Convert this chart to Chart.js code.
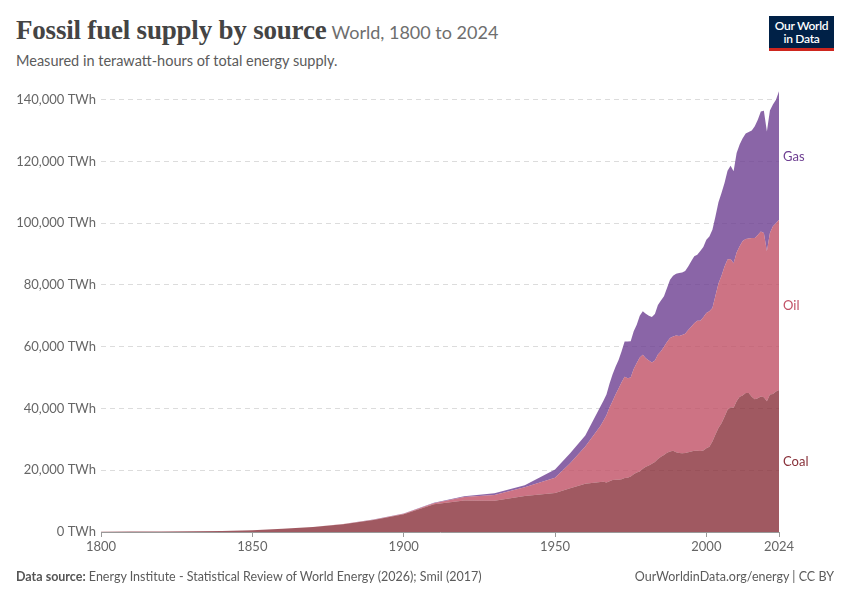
<!DOCTYPE html>
<html>
<head>
<meta charset="utf-8">
<script src="https://cdn.jsdelivr.net/npm/chart.js@4.4.0/dist/chart.umd.min.js"></script>
<style>
  html, body { margin: 0; padding: 0; background: #fff; }
  body { width: 850px; height: 600px; position: relative; overflow: hidden; font-family: Lato, "Noto Sans", sans-serif; }
  #wrap { position: absolute; left: 0; top: 0; width: 850px; height: 600px; }
  .title { position: absolute; left: 16px; top: 15px; white-space: nowrap; }
  .title .main { font-family: "Liberation Serif", "DejaVu Serif", serif; font-weight: 600; font-size: 27px; color: #444; letter-spacing: -0.2px; }
  .title .sub { font-family: Lato, sans-serif; font-size: 18px; color: #6e6e6e; margin-left: 1px; }
  .subtitle { position: absolute; left: 16px; top: 52px; font-size: 14.5px; color: #5b5b5b; white-space: nowrap; }
  .footer { position: absolute; top: 569px; font-size: 12.5px; color: #5b5b5b; white-space: nowrap; }
  .footer.left { left: 16px; }
  .footer.right { right: 16px; }
  .footer b { font-weight: 700; color: #555; }
  .logo { position: absolute; left: 769px; top: 16px; width: 65px; height: 35px; background: #002147; border-bottom: 3px solid #ce261e; box-sizing: border-box; color: #fff; font-size: 12px; font-weight: 600; line-height: 13px; text-align: center; padding-top: 3px; letter-spacing: -0.3px; }
  .slabel { position: absolute; left: 783px; font-size: 13px; white-space: nowrap; transform: translateY(-50%); }
</style>
</head>
<body>
<div class="title"><span class="main">Fossil fuel supply by source</span> <span class="sub">World, 1800 to 2024</span></div>
<div class="subtitle">Measured in terawatt-hours of total energy supply.</div>
<div class="logo">Our World<br>in Data</div>
<div id="wrap"><canvas id="c" width="850" height="600"></canvas></div>
<div class="footer left"><b>Data source:</b> Energy Institute - Statistical Review of World Energy (2026); Smil (2017)</div>
<div class="footer right">OurWorldinData.org/energy | CC BY</div>
<div id="lab-gas" class="slabel" style="color:#6d3e91">Gas</div>
<div id="lab-oil" class="slabel" style="color:#c15065">Oil</div>
<div id="lab-coal" class="slabel" style="color:#883039">Coal</div>
<script>
// Years
const years = [1800,1810,1820,1830,1840,1850,1860,1870,1880,1890,1900,1910,1920,1930,1940,1950,1955,1960,
  1965,1966,1967,1968,1969,1970,1971,1972,1973,1974,1975,1976,1977,1978,1979,1980,1981,1982,1983,1984,
  1985,1986,1987,1988,1989,1990,1991,1992,1993,1994,1995,1996,1997,1998,1999,2000,2001,2002,2003,2004,
  2005,2006,2007,2008,2009,2010,2011,2012,2013,2014,2015,2016,2017,2018,2019,2020,2021,2022,2023,2024];

// Coal supply (TWh)
const coal = [97,128,153,264,356,569,1061,1642,2542,3856,5728,9000,10200,10150,11670,12600,14150,15600,
  16200,16300,16000,16400,16800,16900,16900,17100,17500,17600,18000,18700,19300,19600,20500,21100,21500,22100,22700,23600,
  24400,24900,25700,26100,26300,25800,25600,25500,25600,25800,26100,26300,26300,26200,26400,27100,27600,29300,31600,33700,
  35200,37300,39600,40400,40200,42300,43800,44200,45000,45000,43800,43000,43300,43900,43600,42300,44500,44700,45500,46000];

// Oil supply (TWh)
const oil = [0,0,0,0,0,0,0,6,33,89,181,300,1100,1850,2800,5000,8100,12050,
  18100,19700,21800,23900,25500,27600,29600,31400,32800,32200,32000,34100,35400,36900,36900,35200,34000,32800,32800,33900,
  34100,35100,35800,36700,37000,37800,37900,38300,38600,39600,40400,41300,42100,42200,43100,43800,43900,43200,44900,46800,
  47800,48700,48600,48000,46800,48200,48700,50000,49900,50000,51400,52200,52900,53400,53200,48600,52300,54300,54500,55100];

// Gas supply (TWh)
const gas = [0,0,0,0,0,0,0,0,33,89,64,150,250,540,650,2600,3250,3570,
  6300,6500,6700,7700,8700,9000,9200,10000,11400,11900,11800,12200,12400,13500,14100,14400,14500,14700,15100,16000,
  16500,16300,17500,18900,19700,20000,20400,20200,20300,20600,21200,21700,21400,22600,22800,23700,24200,25400,25700,26300,
  26800,27000,28800,30200,29800,32200,33000,33300,34100,34500,34800,36200,37300,38900,39600,38800,39700,39400,40000,41600];

// Axis ticks
const xTicks = [1800, 1850, 1900, 1950, 2000, 2024];
const yTicks = [0, 20000, 40000, 60000, 80000, 100000, 120000, 140000];

const toXY = arr => years.map((yr, i) => ({ x: yr, y: arr[i] }));
const fmt = v => v.toLocaleString('en-US') + ' TWh';

const chart = new Chart(document.getElementById('c'), {
  type: 'line',
  data: {
    datasets: [
      { label: 'Coal', data: toXY(coal), backgroundColor: 'rgba(136,48,57,0.8)', borderWidth: 0, pointRadius: 0, fill: 'origin' },
      { label: 'Oil', data: toXY(oil), backgroundColor: 'rgba(193,80,101,0.8)', borderWidth: 0, pointRadius: 0, fill: '-1' },
      { label: 'Gas', data: toXY(gas), backgroundColor: 'rgba(109,62,145,0.8)', borderWidth: 0, pointRadius: 0, fill: '-1' }
    ]
  },
  options: {
    responsive: false,
    animation: false,
    devicePixelRatio: 1,
    layout: { padding: { left: 0, right: 71, top: 91, bottom: 38 } },
    plugins: { legend: { display: false }, tooltip: { enabled: false } },
    elements: { line: { tension: 0 } },
    scales: {
      x: {
        type: 'linear', min: 1800, max: 2024,
        afterBuildTicks: axis => { axis.ticks = xTicks.map(v => ({ value: v })); },
        afterFit: s => { s.height = 30; },
        grid: { display: true, drawOnChartArea: false, drawTicks: true, tickLength: 5, color: '#999' },
        border: { display: true, color: '#999', width: 1 },
        ticks: { callback: v => String(v), color: '#666', font: { family: 'Lato', size: 13 }, padding: 2, maxRotation: 0, autoSkip: false }
      },
      y: {
        stacked: true, min: 0, max: 142800,
        afterBuildTicks: axis => { axis.ticks = yTicks.map(v => ({ value: v })); },
        afterFit: s => { s.width = 101; },
        grid: { color: ctx => (ctx.tick && ctx.tick.value === 0) ? 'rgba(0,0,0,0)' : '#dcdcdc', drawTicks: false, lineWidth: 1 },
        border: { display: false, dash: [5, 4] },
        ticks: { callback: v => fmt(v), color: '#666', font: { family: 'Lato', size: 13 }, padding: 5 }
      }
    }
  }
});

// Position right-side labels at the middle of each band at the last year
const n = years.length - 1;
const ys = chart.scales.y;
const c1 = coal[n], c2 = coal[n] + oil[n], c3 = c2 + gas[n];
document.getElementById('lab-coal').style.top = ys.getPixelForValue(c1 / 2) + 'px';
document.getElementById('lab-oil').style.top = ys.getPixelForValue((c1 + c2) / 2) + 'px';
document.getElementById('lab-gas').style.top = ys.getPixelForValue((c2 + c3) / 2) + 'px';
</script>
</body>
</html>
